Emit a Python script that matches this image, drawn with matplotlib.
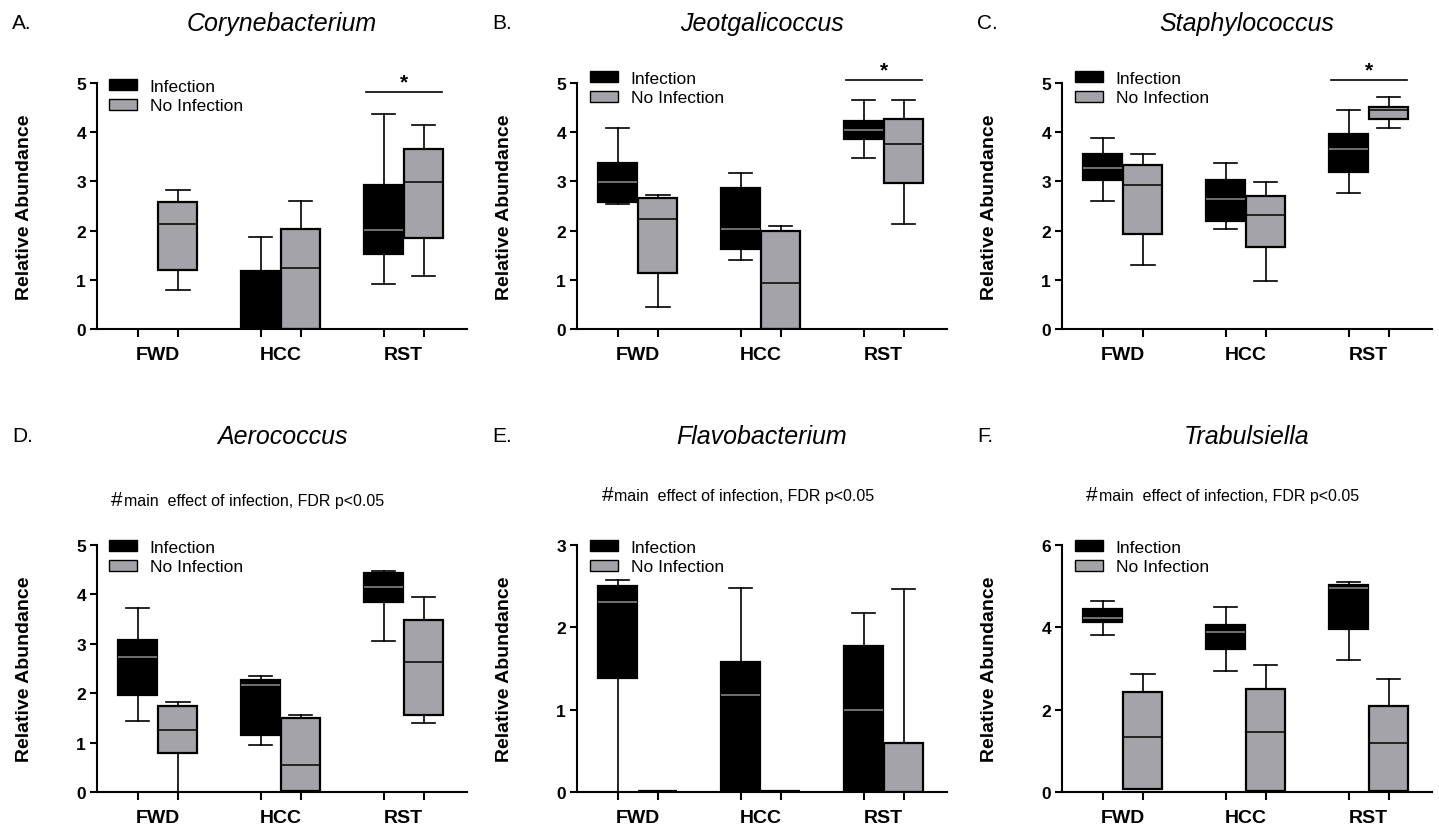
import matplotlib
matplotlib.use('Agg')
import matplotlib.pyplot as plt
from matplotlib.patches import Patch

plt.rcParams['font.family'] = ['Liberation Sans', 'DejaVu Sans']

sites = ['FWD', 'HCC', 'RST']
groups = ['Infection', 'No Infection']

# five-number summaries per site: [whisker low, Q1, median, Q3, whisker high]
coryne_inf = [None, [0.0, 0.0, 0.0, 1.17, 1.87], [0.92, 1.52, 2.01, 2.92, 4.36]]
coryne_noinf = [[0.79, 1.20, 2.13, 2.58, 2.83], [0.0, 0.0, 1.24, 2.04, 2.61], [1.08, 1.85, 2.99, 3.65, 4.14]]

jeot_inf = [[2.55, 2.59, 2.99, 3.37, 4.08], [1.40, 1.63, 2.04, 2.86, 3.18], [3.47, 3.86, 4.05, 4.23, 4.66]]
jeot_noinf = [[0.44, 1.13, 2.23, 2.67, 2.73], [0.0, 0.0, 0.93, 2.00, 2.10], [2.13, 2.97, 3.76, 4.27, 4.66]]

staph_inf = [[2.61, 3.03, 3.28, 3.55, 3.89], [2.04, 2.20, 2.65, 3.02, 3.38], [2.77, 3.19, 3.66, 3.97, 4.46]]
staph_noinf = [[1.30, 1.94, 2.92, 3.34, 3.56], [0.98, 1.66, 2.32, 2.70, 2.99], [4.08, 4.27, 4.46, 4.52, 4.72]]

aero_inf = [[1.43, 1.97, 2.74, 3.07, 3.72], [0.95, 1.15, 2.17, 2.26, 2.35], [3.05, 3.84, 4.14, 4.44, 4.47]]
aero_noinf = [[0.0, 0.79, 1.26, 1.75, 1.82], [0.0, 0.02, 0.54, 1.50, 1.55], [1.39, 1.55, 2.64, 3.49, 3.95]]

flavo_inf = [[0.0, 1.38, 2.31, 2.50, 2.57], [0.0, 0.0, 1.18, 1.58, 2.48], [0.0, 0.0, 1.00, 1.77, 2.17]]
flavo_noinf = [[0.01, 0.01, 0.01, 0.01, 0.01], [0.01, 0.01, 0.01, 0.01, 0.01], [0.0, 0.0, 0.0, 0.60, 2.46]]

trab_inf = [[3.82, 4.13, 4.22, 4.45, 4.65], [2.94, 3.48, 3.89, 4.05, 4.50], [3.20, 3.97, 4.95, 5.03, 5.10]]
trab_noinf = [[0.08, 0.08, 1.34, 2.42, 2.86], [0.0, 0.02, 1.45, 2.51, 3.09], [0.0, 0.03, 1.19, 2.09, 2.75]]

W, H = 1439, 828
GRAY = '#a4a4a8'
fig = plt.figure(figsize=(W / 100, H / 100), dpi=100)


def to_stats(row):
    return dict(whislo=row[0], q1=row[1], med=row[2], q3=row[3], whishi=row[4], fliers=[])


def panel(left, top, bottom, letter, title, inf, noinf, ymax, yticks, star=False, note=False):
    ax = fig.add_axes([left / W, 1 - bottom / H, 370 / W, (bottom - top) / H])
    off, bw = 0.163, 0.317
    for data, shift, fc, mc in [(inf, -off, 'black', '#8f8f8f'), (noinf, off, GRAY, 'black')]:
        pos = [i + shift for i, r in enumerate(data) if r is not None]
        st = [to_stats(r) for r in data if r is not None]
        ax.bxp(st, positions=pos, widths=bw, capwidths=0.19, patch_artist=True,
               showfliers=False, manage_ticks=False,
               boxprops=dict(facecolor=fc, edgecolor='black', linewidth=1.6),
               medianprops=dict(color=mc, linewidth=1.1),
               whiskerprops=dict(color='black', linewidth=1.2),
               capprops=dict(color='black', linewidth=1.2))
    ax.set_xlim(-0.495, 2.515)
    ax.set_ylim(0, ymax)
    ax.set_yticks(yticks)
    ax.set_yticklabels([str(t) for t in yticks], fontsize=12.5, fontweight='bold')
    ax.set_xticks([0, 1, 2])
    ax.set_xticklabels(sites, fontsize=14, fontweight='bold')
    ax.set_xticks([i + s for i in range(3) for s in (-off, off)], minor=True)
    ax.tick_params(axis='x', which='major', length=0, pad=12)
    ax.tick_params(axis='x', which='minor', length=6, width=1.5)
    ax.tick_params(axis='y', length=5, width=1.5, pad=3)
    for s in ['top', 'right']:
        ax.spines[s].set_visible(False)
    for s in ['left', 'bottom']:
        ax.spines[s].set_linewidth(1.5)
    ax.set_ylabel('Relative Abundance', fontsize=14, fontweight='bold')
    ax.yaxis.set_label_coords(-0.173, 0.5)

    if star:
        ly = ax.transData.inverted().transform((0, fig.bbox.height - star))[1]
        ax.plot([1.69, 2.31], [ly, ly], color='black', lw=1.2, clip_on=False)
        ax.text(2, ly + 0.09, '*', ha='center', va='baseline', fontsize=15,
                fontweight='bold', clip_on=False)

    lx = left + 12 if left < 500 else left + 13
    ly_leg = top - 4 if not note else top - 5
    if star:
        ly_leg = top - 12 if left > 500 else top - 4
    ax.legend([Patch(facecolor='black', edgecolor='black'), Patch(facecolor=GRAY, edgecolor='black')],
              groups, loc='upper left', bbox_to_anchor=(lx / W, 1 - ly_leg / H),
              bbox_transform=fig.transFigure, frameon=False, fontsize=12.5,
              handlelength=1.6, handleheight=0.6, handletextpad=0.75,
              labelspacing=0.25, borderpad=0, borderaxespad=0)

    cx = left + 185
    tb = top - 53 if top < 100 else top - 102
    fig.text(cx / W, 1 - tb / H, title, style='italic', fontsize=18, ha='center', va='baseline')
    fig.text((left - 85) / W, 1 - (tb - 2) / H, letter, fontsize=15, ha='left', va='baseline')
    if note:
        nx = left + 26 if left < 500 else left + 36
        nb = top - 40 if left < 500 else top - 45
        fig.text(nx / W, 1 - nb / H, '#', fontsize=15, ha='right', va='baseline')
        fig.text((nx + 1) / W, 1 - nb / H, 'main  effect of infection, FDR p<0.05',
                 fontsize=11.5, ha='left', va='baseline')
    return ax


panel(97, 84, 330, 'A.', 'Corynebacterium', coryne_inf, coryne_noinf, 5, [0, 1, 2, 3, 4, 5], star=93)
panel(577, 84, 330, 'B.', 'Jeotgalicoccus', jeot_inf, jeot_noinf, 5, [0, 1, 2, 3, 4, 5], star=81)
panel(1062, 84, 330, 'C.', 'Staphylococcus', staph_inf, staph_noinf, 5, [0, 1, 2, 3, 4, 5], star=81)
panel(97, 546, 793, 'D.', 'Aerococcus', aero_inf, aero_noinf, 5, [0, 1, 2, 3, 4, 5], note=True)
panel(577, 546, 793, 'E.', 'Flavobacterium', flavo_inf, flavo_noinf, 3, [0, 1, 2, 3], note=True)
panel(1062, 546, 793, 'F.', 'Trabulsiella', trab_inf, trab_noinf, 6, [0, 2, 4, 6], note=True)

fig.savefig('out.png', dpi=100)
